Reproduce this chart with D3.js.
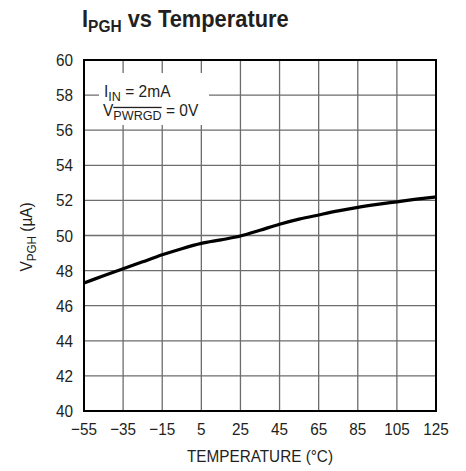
<!DOCTYPE html>
<html><head><meta charset="utf-8">
<script src="https://cdn.jsdelivr.net/npm/d3@7"></script>
<style>
body{margin:0;background:#fff;}
svg text{font-family:"Liberation Sans",Arial,sans-serif;fill:#231f20;}
</style></head><body>
<svg id="c" width="466" height="471"></svg>
<script>
const temps = [-55,-45,-35,-25,-15,-5,5,15,25,35,45,55,65,75,85,95,105,115,125];
const ipgh  = [47.3,47.7,48.1,48.5,48.9,49.25,49.55,49.75,49.97,50.3,50.64,50.93,51.17,51.4,51.6,51.77,51.92,52.07,52.2];
const xTicks = [-55,-35,-15,5,25,45,65,85,105,125];
const yTicks = [40,42,44,46,48,50,52,54,56,58,60];

const svg = d3.select("#c");
const L=84,R=436,T=60,B=411;
const x = d3.scaleLinear().domain([-55,125]).range([L,R]);
const y = d3.scaleLinear().domain([40,60]).range([B,T]);

function txt(px,py,sx,extra){
  return svg.append("text").attr("transform",`translate(${px},${py})${extra||""} scale(${sx},1)`);
}

// grid
const g = svg.append("g");
g.selectAll("line.v").data(xTicks.slice(1,-1)).enter().append("line")
 .attr("x1",d=>x(d)).attr("x2",d=>x(d)).attr("y1",T).attr("y2",B)
 .attr("stroke","#6d6d6d").attr("stroke-width",1.3);
g.selectAll("line.h").data(yTicks.slice(1,-1)).enter().append("line")
 .attr("x1",L).attr("x2",R).attr("y1",d=>y(d)).attr("y2",d=>y(d))
 .attr("stroke","#6d6d6d").attr("stroke-width",1.3);

// legend box background
svg.append("rect").attr("x",99).attr("y",73).attr("width",110).attr("height",52).attr("fill","#fff");

// frame
svg.append("rect").attr("x",L).attr("y",T).attr("width",R-L).attr("height",B-T)
 .attr("fill","none").attr("stroke","#000").attr("stroke-width",2);

// curve
svg.append("path").datum(temps.map((t,i)=>[t,ipgh[i]]))
 .attr("d",d3.line().x(d=>x(d[0])).y(d=>y(d[1])).curve(d3.curveMonotoneX))
 .attr("fill","none").attr("stroke","#000").attr("stroke-width",3.2);

// tick labels
yTicks.forEach(d=>{
  txt(73,y(d)+6,0.9).attr("text-anchor","end").attr("font-size",17).text(d);
});
xTicks.forEach(d=>{
  txt(x(d),435,0.9).attr("text-anchor","middle").attr("font-size",17).text(d<0?"\u2212"+Math.abs(d):d);
});

// axis titles
txt(260,462,0.9).attr("text-anchor","middle").attr("font-size",17).text("TEMPERATURE (°C)");
const yt = txt(32,237,0.9," rotate(-90)").attr("text-anchor","middle").attr("font-size",17);
yt.append("tspan").text("V");
yt.append("tspan").attr("font-size",13).attr("dy",4).text("PGH");
yt.append("tspan").attr("dy",-4).text(" (µA)");

// title
const tt = txt(82,27,0.91).attr("font-size",24).attr("font-weight","bold");
tt.append("tspan").text("I");
tt.append("tspan").attr("font-size",17).attr("dy",5).text("PGH");
tt.append("tspan").attr("dy",-5).text(" vs Temperature");

// legend text
const l1 = txt(104,97,0.97).attr("font-size",16);
l1.append("tspan").text("I");
l1.append("tspan").attr("font-size",13).attr("dy",4).text("IN");
l1.append("tspan").attr("dy",-4).text(" = 2mA");
const l2 = txt(103,116,0.97).attr("font-size",16);
l2.append("tspan").text("V");
l2.append("tspan").attr("font-size",13).attr("dy",4).attr("text-decoration","overline").text("PWRGD");
l2.append("tspan").attr("dy",-4).text(" = 0V");
</script>
</body></html>
